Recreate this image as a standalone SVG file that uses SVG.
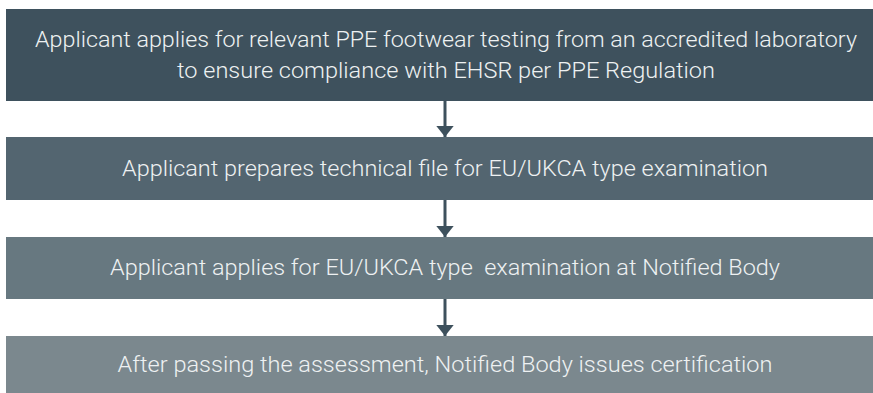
<svg xmlns="http://www.w3.org/2000/svg" width="873" height="393" viewBox="0 0 873 393">
<defs>
<style>
.t{font-family:Roboto,"Liberation Sans",sans-serif;font-weight:300;font-size:21.5px;fill:#eef1f2;text-anchor:middle}
.c{stroke:#3e515d;stroke-width:3;fill:none}
</style>
<marker id="ah" viewBox="0 0 10 10" refX="10" refY="5" markerWidth="3.8" markerHeight="6" markerUnits="strokeWidth" orient="auto" preserveAspectRatio="none">
<path d="M0,0L10,5L0,10z" fill="#3e515d"/>
</marker>
</defs>
<rect width="873" height="393" fill="#ffffff"/>
<g id="n1">
<rect x="6" y="9" width="880" height="92" fill="#3e515d"/>
<text class="t" x="446" y="47" textLength="822" lengthAdjust="spacingAndGlyphs">Applicant applies for relevant PPE footwear testing from an accredited laboratory</text>
<text class="t" x="446" y="78" textLength="538" lengthAdjust="spacingAndGlyphs">to ensure compliance with EHSR per PPE Regulation</text>
</g>
<g id="n2">
<rect x="6" y="137" width="880" height="63" fill="#536570"/>
<text class="t" x="445" y="176" textLength="646" lengthAdjust="spacingAndGlyphs">Applicant prepares technical file for EU/UKCA type examination</text>
</g>
<g id="n3">
<rect x="6" y="237" width="880" height="62" fill="#677880"/>
<text class="t" x="445" y="275" textLength="670" lengthAdjust="spacingAndGlyphs" xml:space="preserve">Applicant applies for EU/UKCA type  examination at Notified Body</text>
</g>
<g id="n4">
<rect x="6" y="336" width="880" height="57" fill="#7b888e"/>
<text class="t" x="445" y="372" textLength="655" lengthAdjust="spacingAndGlyphs">After passing the assessment, Notified Body issues certification</text>
</g>
<g id="connectors">
<line class="c" x1="445" y1="101" x2="445" y2="137" marker-end="url(#ah)"/>
<line class="c" x1="445" y1="200" x2="445" y2="237" marker-end="url(#ah)"/>
<line class="c" x1="445" y1="299" x2="445" y2="336" marker-end="url(#ah)"/>
</g>
</svg>
